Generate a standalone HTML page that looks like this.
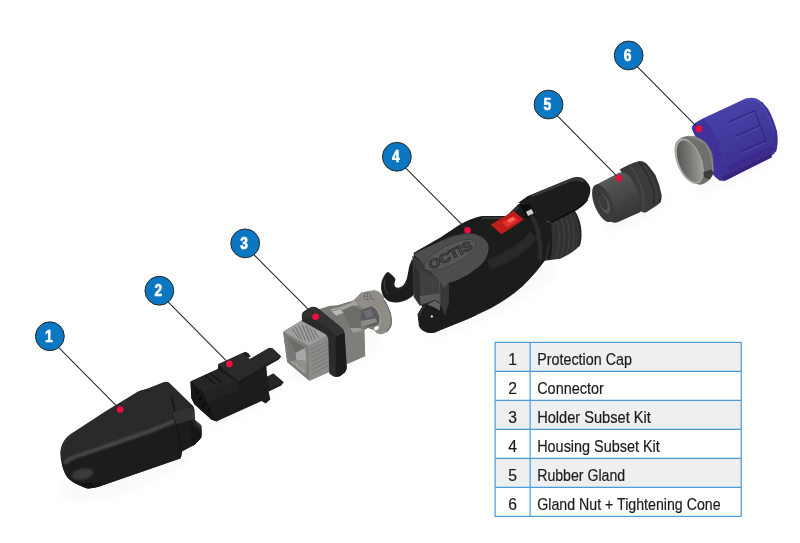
<!DOCTYPE html>
<html lang="en">
<head>
<meta charset="utf-8">
<title>Exploded view</title>
<style>
html,body{margin:0;padding:0;background:#fff;}
body{width:800px;height:543px;overflow:hidden;font-family:"Liberation Sans",sans-serif;}
svg{display:block;position:absolute;left:0;top:0;}
.t{font-family:"Liberation Sans",sans-serif;font-size:15.7px;fill:#1c1c1c;stroke:#1c1c1c;stroke-width:0.2px;}
.n{font-family:"Liberation Sans",sans-serif;font-size:15.7px;fill:#1c1c1c;stroke:#1c1c1c;stroke-width:0.2px;text-anchor:middle;}
.c{font-family:"Liberation Sans",sans-serif;font-weight:bold;font-size:16.4px;fill:#fff;stroke:#fff;stroke-width:0.6px;text-anchor:middle;}
</style>
</head>
<body>
<svg width="800" height="543" viewBox="0 0 800 543">
<defs>
<filter id="b1" x="-20%" y="-20%" width="140%" height="140%"><feGaussianBlur stdDeviation="1"/></filter>
<filter id="b2" x="-20%" y="-20%" width="140%" height="140%"><feGaussianBlur stdDeviation="2"/></filter>
<filter id="b05" x="-20%" y="-20%" width="140%" height="140%"><feGaussianBlur stdDeviation="0.5"/></filter>
<filter id="b3" x="-30%" y="-30%" width="160%" height="160%"><feGaussianBlur stdDeviation="3.5"/></filter>
<clipPath id="c1"><path d="M60.3,452.8 C61,445 64,439 70,434.5 L105.2,411.4 L138.4,391.2 L145.7,389.2 L163.5,382.3 Q167,380.8 169.5,383 L192.6,405.4 Q194,407 194.2,409 L195,420 L200.6,424.6 Q201.6,425.6 201.6,427 L201.6,436 Q201.6,437.6 200.4,438.6 L195,444.6 L182.2,451.3 L181,457.2 Q180.8,458.4 179.5,458.8 L99.3,486.6 Q92,489 86.4,488.2 C78,485.5 71,481 68.4,478.6 C63.5,473 60.5,462 60.3,452.8 Z"/></clipPath>
<linearGradient id="g5" x1="0" y1="0" x2="0.45" y2="1"><stop offset="0" stop-color="#646464"/><stop offset="0.45" stop-color="#4e4e4e"/><stop offset="1" stop-color="#363636"/></linearGradient>
<linearGradient id="g6" x1="0.2" y1="0" x2="0.7" y2="1"><stop offset="0" stop-color="#4944ac"/><stop offset="0.5" stop-color="#413a9c"/><stop offset="1" stop-color="#3b2c88"/></linearGradient>
<linearGradient id="g6r" x1="0" y1="0" x2="1" y2="0.6"><stop offset="0" stop-color="#4c4c4a"/><stop offset="0.45" stop-color="#6c6c69"/><stop offset="1" stop-color="#9c9c98"/></linearGradient>
<filter id="soft" x="0" y="0" width="800" height="543" filterUnits="userSpaceOnUse"><feGaussianBlur stdDeviation="0.45"/></filter>
<!--DEFS-->
</defs>
<rect width="800" height="543" fill="#fff"/>

<g id="photo" filter="url(#soft)">
<!-- PART1 -->
<g id="p1">
<ellipse cx="125" cy="470" rx="70" ry="22" transform="rotate(-20 125 470)" fill="#fafafa" filter="url(#b3)"/>
<g clip-path="url(#c1)">
<rect x="55" y="375" width="150" height="120" fill="#292929"/>
<path d="M55,470 L75,456 L150,430 L176,418 L196,404 L205,440 L200,500 L55,500 Z" fill="#1a1a1a" filter="url(#b1)"/>
<path d="M66,462 Q72,457 82,454.5 L150,431 L173,421.5" stroke="#474747" stroke-width="4.2" fill="none" filter="url(#b1)" stroke-linecap="round"/>
<path d="M62,452 Q64,440 74,432" stroke="#333" stroke-width="2.5" fill="none" filter="url(#b1)"/>
<ellipse cx="82.5" cy="474" rx="11" ry="5.5" transform="rotate(-12 82.5 474)" fill="#3a3a3a" filter="url(#b1)"/>
<path d="M70,482 Q85,489 100,485" stroke="#111" stroke-width="3" fill="none" filter="url(#b1)"/>
<path d="M172,397 L176,419 L181,452" stroke="#151515" stroke-width="1.6" fill="none" filter="url(#b05)"/>
<path d="M172.5,412 L193,406.5 L194.5,419 L176.5,424.5 Z" fill="#303030" filter="url(#b05)"/>
<path d="M190,424 L201,432 L201,440 L192,446 Z" fill="#181818" filter="url(#b05)"/>
<path d="M140,391 L146,389.5 L150,392" stroke="#1a1a1a" stroke-width="1" fill="none"/>
</g>
</g>

<!-- PART2 -->
<g id="p2">
<ellipse cx="240" cy="402" rx="45" ry="14" transform="rotate(-24 240 402)" fill="#fafafa" filter="url(#b3)"/>
<path d="M190.5,381.5 L217.9,369 L218.2,364.3 L242.1,353.3 L245.3,351.7 L248.4,353.3 L250.7,356.4 L247.6,358 L249.2,359.6 L269.5,347.8 L272.6,348.6 L281.2,356.4 L278.9,359.6 L266.4,366.6 L267.2,376.8 L273.4,373.6 L283.6,382.3 L281.2,385.4 L268.7,391.6 L270.3,399.5 L265.6,403.4 L261.7,401 L216.3,421.4 L211.6,419.8 L194.4,404.2 L191.3,397.9 Z" fill="#1b1b1b"/>
<path d="M190.5,381.5 L217.9,369 L238,382 L203,392.5 Z" fill="#252525"/>
<path d="M218.2,364.3 L242.1,353.3 L263,368 L238.5,382 Z" fill="#2c2c2c"/>
<path d="M249.2,359.6 L269.5,347.8 L272.6,348.6 L281.2,356.4 L262,367 Z" fill="#2a2a2a"/>
<path d="M267.2,376.8 L273.4,373.6 L283.6,382.3 L270,389 Z" fill="#282828"/>
<path d="M203,392.5 L238,382 L240,390 L206,403 Z" fill="#222"/>
<path d="M190.5,381.5 L203,392.5 L215,420.5 L211.6,419.8 L194.4,404.2 L191.3,397.9 Z" fill="#141414"/>
<path d="M205,375.5 L215,384 M210,373 L221,382" stroke="#151515" stroke-width="1.2" fill="none"/>
<path d="M218,369 L238.5,382 L263,368" stroke="#161616" stroke-width="1" fill="none"/>
<g fill="#0c0c0c"><circle cx="197" cy="392" r="1.6"/><circle cx="201" cy="398" r="1.6"/><circle cx="205" cy="404" r="1.6"/><circle cx="209" cy="410" r="1.6"/><circle cx="203" cy="406" r="1.4"/><circle cx="199" cy="401" r="1.4"/></g>
</g>

<!-- PART3 -->
<g id="p3">
<ellipse cx="335" cy="358" rx="50" ry="14" transform="rotate(-24 335 358)" fill="#fafafa" filter="url(#b3)"/>
<g transform="translate(275,280) scale(0.20259)">
<!-- rear clamp -->
<g transform="translate(222.12,-24.68) scale(0.90987)">
<path d="M-20,190 L50,168 L100,163 L180,138 L195,125 L225,95 L300,85 L330,105 L375,190 L385,235 L375,285 L340,320 L308,314 L300,302 L260,287 L240,300 L245,440 L150,482 L130,470 L0,400 Z" fill="#787874"/>
<path d="M130,300 L170,280 L215,285 L240,300 L245,440 L150,482 L130,470 Z" fill="#7e7e7a"/>
<path d="M150,330 L150,480" stroke="#6c6c68" stroke-width="3" filter="url(#b1)"/>
</g>
<g transform="translate(296.17,0) scale(0.59085)">
<!-- block front/dark -->
<path d="M60,250 L150,212 L215,250 L215,402 L130,402 Z" fill="#6c6c68"/>
<!-- block top light -->
<path d="M-40,245 L50,222 L130,190 L165,168 L200,215 L150,214 L60,252 L-10,290 Z" fill="#a2a29e"/>
<path d="M-30,262 L40,240 L75,275 L10,300 Z" fill="#b9b9b5" stroke="#6e6e6a" stroke-width="5"/>
<path d="M130,402 L215,402 L238,422 L150,440 Z" fill="#9a9a96"/>
<!-- inside band -->
<path d="M215,250 L300,222 L345,245 L372,300 L372,352 L332,382 L240,392 L215,332 Z" fill="#5c5c60"/>
<path d="M240,262 L300,245 L325,300 L260,320 Z" fill="#6e6e72"/>
<path d="M215,342 L340,320 L352,350 L225,392 Z" fill="#8a8a86"/>
<!-- clamp top plate -->
<path d="M165,165 L215,130 L250,100 L330,85 L370,100 L405,135 L410,160 L380,186 L300,216 L240,242 L200,215 Z" fill="#908d88"/>
<path d="M165,165 L215,130 L250,100 L330,85 L370,100" stroke="#a8a6a2" stroke-width="6" fill="none" filter="url(#b1)"/>
<!-- band outer -->
<path d="M300,216 L380,186 L410,164 Q440,210 462,270 Q478,325 472,370 Q462,412 420,440 Q395,456 372,454 Q348,448 330,425 L320,410 Q350,395 370,360 Q378,320 368,285 Q358,255 345,240 Z" fill="#8f8c87"/>
<path d="M412,168 Q440,212 460,270 Q476,325 470,370 Q462,405 425,435" stroke="#6a6763" stroke-width="9" fill="none" filter="url(#b2)"/>
<path d="M330,225 Q360,255 375,300 Q385,345 372,385" stroke="#a5a29d" stroke-width="8" fill="none" filter="url(#b2)"/>
<ellipse cx="346" cy="402" rx="22" ry="15" transform="rotate(-30 346 402)" fill="#fbfbfb"/>
<!-- screw -->
<circle cx="270" cy="135" r="27" fill="#a0a0a4" stroke="#55555c" stroke-width="6"/>
<path d="M244,135 L296,135 M270,109 L270,161" stroke="#55555c" stroke-width="6"/>
<path d="M300,150 Q315,170 330,158" stroke="#5a5858" stroke-width="6" fill="none"/>
</g>
<!-- front box -->
<path d="M40,255 L130,200 L265,270 L275,450 L170,497 L60,405 Z" fill="#8e8e8a"/>
<path d="M40,255 L130,200 L265,270 L165,325 Z" fill="#9f9f9b"/>
<path d="M40,255 L165,325 L170,497 L60,405 Z" fill="#7d7d79"/>
<path d="M165,325 L265,270 L275,450 L170,497 Z" fill="#8b8b87"/>
<path d="M62,280 L150,335 L155,465 L75,400 Z" fill="#6c6c69"/>
<path d="M100,360 L150,335 L155,400 L105,395 Z" fill="#a6a8a8"/>
<path d="M75,400 L105,395 L155,400 L155,465 Z" fill="#8f8f8c"/>
<path d="M62,280 L100,360 L105,395 L75,400 Z" fill="#77777a"/>
<g stroke="#55555a" stroke-width="3.5" fill="none">
<path d="M85,240 L120,290"/><path d="M100,232 L135,298"/><path d="M118,225 L150,300"/><path d="M135,222 L170,305"/><path d="M152,225 L185,300"/><path d="M170,235 L200,295"/><path d="M190,245 L215,285"/>
</g>
<g stroke="#6a6a6a" stroke-width="3" fill="none">
<path d="M175,345 L262,300"/><path d="M176,365 L263,320"/><path d="M177,385 L264,340"/><path d="M178,405 L265,360"/><path d="M179,425 L266,380"/><path d="M180,445 L267,400"/><path d="M181,465 L268,420"/>
</g>
<g stroke="#d0d0d0" stroke-width="2.5" fill="none">
<path d="M80,398 L84,412"/><path d="M92,406 L96,422"/><path d="M104,414 L108,432"/><path d="M116,424 L120,442"/><path d="M128,434 L132,452"/><path d="M140,444 L144,462"/>
</g>
<!-- black ring -->
<path d="M133,168 Q134,160 145,153 L172,136 Q190,128 210,138 L327,233 Q341,245 343,262 L354,432 Q354,446 344,456 L322,474 Q302,484 285,474 L268,462 L263,292 Q262,277 248,267 L133,202 Z" fill="#2a2a2a"/>
<path d="M135,168 L172,138 Q190,130 210,140 L325,235 Q338,245 340,262 L300,280 Q295,262 280,252 L170,180 Q160,175 135,200 Z" fill="#333"/>
<path d="M300,280 L343,262 L354,432 Q354,446 344,456 L322,474 Q305,480 300,466 Z" fill="#1d1d1d"/>
</g>
</g>

<!-- PART4 -->
<g id="p4">
<ellipse cx="490" cy="300" rx="75" ry="16" transform="rotate(-27 490 300)" fill="#fafafa" filter="url(#b3)"/>
<g transform="translate(370,160) scale(0.34976)">
<!-- thread -->
<g transform="translate(314.5,0) scale(0.68481)">
<path d="M280,262 L392,213 Q410,235 419,280 Q425,330 413,360 Q395,384 335,412 L262,422 Z" fill="#303030"/>
<path d="M392,213 Q410,235 419,280 Q425,330 413,360" stroke="#222" stroke-width="6" fill="none" filter="url(#b1)"/>
<g stroke="#454545" stroke-width="4" fill="none" filter="url(#b05)">
<path d="M318,250 Q345,310 318,412"/><path d="M338,241 Q366,305 340,405"/><path d="M357,232 Q386,300 362,395"/><path d="M375,224 Q405,295 384,385"/>
</g>
<path d="M285,275 Q310,330 285,415" stroke="#1c1c1c" stroke-width="14" fill="none" filter="url(#b2)"/>
<!-- arm -->
<path d="M160,178 L200,150 L380,76 Q405,68 425,74 Q450,88 460,115 Q464,140 450,165 Q430,190 395,212 L295,262 L250,240 L230,215 Z" fill="#1d1d1d"/>
<path d="M215,152 L380,84 Q410,74 432,90" stroke="#383838" stroke-width="10" fill="none" filter="url(#b2)"/>
<path d="M300,258 L395,210 Q430,190 448,165" stroke="#111" stroke-width="8" fill="none" filter="url(#b2)"/>
</g>
<!-- main body -->
<path d="M125,265 L200,222 L255,186 Q290,165 320,160 L390,160 L425,126 L455,126 L475,150 L520,185 L500,288 L474,321 Q456,342 437,360 Q415,380 390,397 Q370,411 347,423 L279,455 L200,487 L185,494 Q150,497 140,475 L136,440 L150,420 L130,380 Z" fill="#1b1b1b"/>
<path d="M320,166 L390,166 L425,132" stroke="#343434" stroke-width="6" fill="none" filter="url(#b2)"/>
<path d="M340,300 Q420,270 470,215" stroke="#2b2b2b" stroke-width="30" fill="none" filter="url(#b3)"/>
<path d="M455,150 Q492,200 486,285" stroke="#333" stroke-width="10" fill="none" filter="url(#b3)"/>
<!-- slot + latch -->
<path d="M428,128 L455,126 L472,150 L448,166 Z" fill="#0d0d0d"/>
<path d="M446,148 L462,140 L468,152 L452,160 Z" fill="#cfcfcf"/>
<path d="M345,185 L410,146 L440,170 L376,212 Z" fill="#c01c1c"/>
<path d="M378,178 L410,160 L424,172 L392,192 Z" fill="#e63232"/>
<path d="M392,172 L408,163 L414,170 L398,180 Z" fill="#ff6a5a"/>
</g>
<g transform="translate(375,210) scale(0.23946)">
<!-- upper hook -->
<g transform="translate(-1566,-877) scale(4.176)">
<path d="M387.7,272.1 L389.4,272.7 Q393.5,276 395.4,278.8 Q395.2,281.5 394.3,283.7 Q394.3,286 395.4,287 Q397.3,288 399.3,287.6 Q402,286.8 403.7,284.8 Q405.8,282 407,278.2 L409.3,266 L412,259 L414,262 L415,293 L412.6,295.9 Q409.5,298.6 405.9,300.3 Q401.5,302 397.1,302.5 Q393,302.6 389.4,301.4 Q386,299.8 383.8,297 Q381.8,293.5 381.1,289.3 Q380.9,285.5 381.6,281.5 Q382.6,278 384.4,275.4 Q386,273 387.7,272.1 Z" fill="#1b1b1b"/>
<path d="M384.5,279 Q383,288 388,294.5" stroke="#3a3a3a" stroke-width="1.3" fill="none" filter="url(#b05)"/>
<path d="M397,289.5 Q403,288.5 406.5,283" stroke="#333" stroke-width="1.2" fill="none" filter="url(#b05)"/>
</g>
<!-- front frame -->
<g transform="translate(125.28,208.8) scale(0.6154)">
<path d="M50,-30 L230,110 L300,150 L298,300 L268,382 L240,360 L180,300 L100,310 L58,250 Z" fill="#383838"/>
<path d="M60,45 L228,135 L238,330 L180,285 L105,300 L68,240 Z" fill="#414141"/>
<path d="M60,45 L100,80 L105,300 L68,240 Z" fill="#2e2e2e"/>
<path d="M100,245 L235,228 L238,330 L180,285 L105,300 Z" fill="#5a5a5a" filter="url(#b1)"/>
<path d="M233,118 L240,350" stroke="#5a5a5a" stroke-width="5" fill="none" filter="url(#b1)"/>
</g>
<!-- plate -->
<path d="M160,184 L215,158 L284,125 Q320,106 347,104 Q370,96 388,97 Q412,96 430,104 Q452,112 464,128 Q476,142 475,159 Q474,180 464,200 Q454,220 437,235 L388,270 L333,298 L305,305 L288,328 L270,295 Z" fill="#4d4d4d"/>
<path d="M284,130 Q320,110 347,106 Q370,98 388,99 Q412,98 430,106 Q452,114 464,130" stroke="#3a3a3a" stroke-width="3" fill="none" filter="url(#b1)"/>
<ellipse cx="314" cy="188" rx="120" ry="41" transform="rotate(-27 314 188)" fill="#565656" stroke="#3c3c3c" stroke-width="3"/>
<text x="314" y="207" transform="rotate(-27 314 188)" text-anchor="middle" font-family="Liberation Sans, sans-serif" font-weight="bold" font-size="54" fill="#505050" stroke="#2a2a2a" stroke-width="3.5" textLength="200" lengthAdjust="spacingAndGlyphs">OCTIS</text>
<!-- lower hook -->
<g transform="translate(125.28,208.8) scale(0.6154)">
<path d="M88,392 Q90,350 118,315 Q140,292 165,286 L205,270 Q235,285 245,310 L270,380 L340,360 L480,360 L480,376 L237,477 L195,492 L150,494 Q105,460 88,392 Z" fill="#1b1b1b"/>
<path d="M150,300 L205,275 L240,302 L236,345 L200,322 Z" fill="#626262" filter="url(#b1)"/>
<path d="M100,380 Q105,340 135,312" stroke="#3a3a3a" stroke-width="8" fill="none" filter="url(#b2)"/>
<circle cx="182" cy="383" r="8" fill="#e8e8e8"/>
</g>
</g>
</g>

<!-- PART5 -->
<g id="p5">
<ellipse cx="635" cy="214" rx="35" ry="10" transform="rotate(-25 635 214)" fill="#fafafa" filter="url(#b3)"/>
<g transform="translate(585,150) scale(0.15654)">
<!-- flange -->
<path d="M222,125 Q270,95 340,72 Q360,68 378,76 Q410,100 450,160 Q480,225 490,290 Q490,320 480,337 Q465,352 440,366 L395,396 Q375,404 355,392 L300,250 Z" fill="#3a3a3a"/>
<path d="M290,105 Q345,170 368,270 Q378,340 370,398" stroke="#4c4c4c" stroke-width="7" fill="none" filter="url(#b1)"/>
<path d="M345,78 Q405,150 435,250 Q448,320 438,364" stroke="#262626" stroke-width="7" fill="none" filter="url(#b1)"/>
<path d="M385,85 Q440,150 470,250 Q482,300 478,335" stroke="#303030" stroke-width="10" fill="none" filter="url(#b2)"/>
<!-- body -->
<path d="M50,270 Q52,235 78,218 L150,180 L222,144 Q262,140 290,175 Q335,240 352,320 Q362,365 355,396 L212,460 Q190,468 170,460 Q130,435 95,390 Q62,335 50,270 Z" fill="url(#g5)"/>
<path d="M100,215 L225,152" stroke="#5e5e5e" stroke-width="10" fill="none" filter="url(#b2)"/>
<!-- front ellipse -->
<ellipse cx="116" cy="340" rx="56" ry="128" transform="rotate(-22 116 340)" fill="#3b3b3b"/>
<ellipse cx="124" cy="345" rx="30" ry="64" transform="rotate(-22 124 345)" fill="#565656"/>
<ellipse cx="118" cy="336" rx="22" ry="50" transform="rotate(-22 118 336)" fill="#3a3a3a"/>
<circle cx="95" cy="288" r="6" fill="#2a2a2a" filter="url(#b1)"/>
</g>
</g>

<!-- PART6 -->
<g id="p6">
<ellipse cx="735" cy="170" rx="45" ry="12" transform="rotate(-25 735 170)" fill="#fafafa" filter="url(#b3)"/>
<g transform="translate(665,90) scale(0.19324)">
<path d="M138,200 Q140,180 160,168 L190,150 L415,45 Q450,36 478,46 Q510,65 535,100 Q562,150 580,215 Q588,270 576,315 Q565,335 545,346 L330,460 Q305,472 282,468 Q260,455 245,432 L200,330 Z" fill="url(#g6)"/>
<path d="M140,200 Q160,165 200,150 Q250,190 275,270 Q295,350 285,465 Q260,455 245,432 L200,330 Z" fill="#41329a" filter="url(#b1)"/>
<path d="M415,50 Q460,40 500,70 Q545,130 572,230" stroke="#5850b8" stroke-width="12" fill="none" filter="url(#b2)" opacity="0.6"/>
<path d="M300,462 L550,338" stroke="#38237c" stroke-width="22" fill="none" filter="url(#b2)"/>
<path d="M330,410 L560,300" stroke="#3b2a8a" stroke-width="30" fill="none" filter="url(#b3)" opacity="0.7"/>
<path d="M500,62 Q545,120 570,215 Q580,270 572,318" stroke="#352c8a" stroke-width="6" fill="none" filter="url(#b1)"/>
<g stroke="#2e2780" stroke-width="6" fill="none" filter="url(#b1)">
<path d="M325,168 L462,108"/><path d="M365,238 L492,184"/><path d="M395,318 L520,262"/><path d="M462,108 Q480,140 492,184"/><path d="M492,184 Q510,220 520,262"/>
</g>
<g stroke="#5049b0" stroke-width="5" fill="none" filter="url(#b1)">
<path d="M328,178 L465,118"/><path d="M368,248 L495,194"/><path d="M398,328 L523,272"/>
</g>
<g stroke="#35298a" stroke-width="4" fill="none" filter="url(#b1)">
<path d="M250,290 L285,275"/><path d="M255,315 L290,300"/><path d="M260,340 L292,326"/><path d="M262,365 L293,352"/>
</g>
<!-- cone ring -->
<path d="M50,300 Q52,262 90,245 Q125,232 165,242 Q215,262 240,315 Q255,360 250,420 L247,442 Q225,480 185,490 Q150,490 110,450 Q70,400 55,345 Q50,320 50,300 Z" fill="#70706c"/>
<path d="M120,240 Q165,244 208,277 Q243,322 248,420" stroke="#8a8a86" stroke-width="7" fill="none" filter="url(#b1)"/>
<ellipse cx="125" cy="368" rx="64" ry="124" transform="rotate(-22 125 368)" fill="#adadA9"/>
<ellipse cx="129" cy="369" rx="57" ry="115" transform="rotate(-22 129 369)" fill="url(#g6r)"/>
<path d="M198,425 L240,410 L250,428 L232,462 L205,455 Z" fill="#3c3c3a"/>
</g>
</g>

</g>
<!-- CALLOUTS -->
<g id="callouts" stroke="#2a2a2a" stroke-width="1.1" fill="none">
<line x1="58.27" y1="347.15" x2="120.20" y2="409.60"/>
<line x1="167.77" y1="301.65" x2="229.40" y2="363.90"/>
<line x1="253.60" y1="254.27" x2="315.60" y2="316.70"/>
<line x1="405.27" y1="167.65" x2="467.50" y2="230.20"/>
<line x1="556.94" y1="115.44" x2="618.90" y2="178.10"/>
<line x1="637.06" y1="66.35" x2="698.90" y2="128.90"/>
</g>
<g id="dots" fill="#ea0f3c">
<circle cx="120.2" cy="409.6" r="3.3"/>
<circle cx="229.4" cy="363.9" r="3.3"/>
<circle cx="315.6" cy="316.7" r="3.3"/>
<circle cx="467.5" cy="230.2" r="3.3"/>
<circle cx="618.9" cy="178.1" r="3.3"/>
<circle cx="698.9" cy="128.9" r="3.3"/>
</g>
<g id="bubbles" fill="#0b77c3" stroke="#262626" stroke-width="1">
<circle cx="49.87" cy="336.25" r="14.4"/>
<circle cx="159.37" cy="290.75" r="14.4"/>
<circle cx="245.2" cy="243.37" r="14.4"/>
<circle cx="396.87" cy="156.75" r="14.4"/>
<circle cx="548.54" cy="104.54" r="14.4"/>
<circle cx="628.66" cy="55.45" r="14.4"/>
</g>
<g id="bubbletext">
<text class="c" x="48.77" y="341.85" textLength="7.7" lengthAdjust="spacingAndGlyphs">1</text>
<text class="c" x="158.27" y="296.35" textLength="7.7" lengthAdjust="spacingAndGlyphs">2</text>
<text class="c" x="244.10" y="248.97" textLength="7.7" lengthAdjust="spacingAndGlyphs">3</text>
<text class="c" x="395.77" y="162.35" textLength="7.7" lengthAdjust="spacingAndGlyphs">4</text>
<text class="c" x="547.44" y="110.14" textLength="7.7" lengthAdjust="spacingAndGlyphs">5</text>
<text class="c" x="627.56" y="61.05" textLength="7.7" lengthAdjust="spacingAndGlyphs">6</text>
</g>

<!-- TABLE -->
<g id="table">
<rect x="495.1" y="342.4" width="246.1" height="29" fill="#eeeff1"/>
<rect x="495.1" y="400.4" width="246.1" height="29" fill="#eeeff1"/>
<rect x="495.1" y="458.4" width="246.1" height="29" fill="#eeeff1"/>
<g stroke="#4a9bd6" stroke-width="1.2" fill="none">
<rect x="495.1" y="342.4" width="246.1" height="174"/>
<line x1="530.1" y1="342.4" x2="530.1" y2="516.4"/>
<line x1="495.1" y1="371.4" x2="741.2" y2="371.4"/>
<line x1="495.1" y1="400.4" x2="741.2" y2="400.4"/>
<line x1="495.1" y1="429.4" x2="741.2" y2="429.4"/>
<line x1="495.1" y1="458.4" x2="741.2" y2="458.4"/>
<line x1="495.1" y1="487.4" x2="741.2" y2="487.4"/>
</g>
<text class="n" x="512.6" y="364.5">1</text>
<text class="n" x="512.6" y="393.5">2</text>
<text class="n" x="512.6" y="422.5">3</text>
<text class="n" x="512.6" y="451.5">4</text>
<text class="n" x="512.6" y="480.5">5</text>
<text class="n" x="512.6" y="509.5">6</text>
<text class="t" x="537.2" y="364.5" textLength="94.8" lengthAdjust="spacingAndGlyphs">Protection Cap</text>
<text class="t" x="537.2" y="393.5" textLength="66.6" lengthAdjust="spacingAndGlyphs">Connector</text>
<text class="t" x="537.2" y="422.5" textLength="113.6" lengthAdjust="spacingAndGlyphs">Holder Subset Kit</text>
<text class="t" x="537.2" y="451.5" textLength="122.6" lengthAdjust="spacingAndGlyphs">Housing Subset Kit</text>
<text class="t" x="537.2" y="480.5" textLength="88" lengthAdjust="spacingAndGlyphs">Rubber Gland</text>
<text class="t" x="537.2" y="509.5" textLength="183.4" lengthAdjust="spacingAndGlyphs">Gland Nut + Tightening Cone</text>
</g>
</svg>
</body>
</html>
